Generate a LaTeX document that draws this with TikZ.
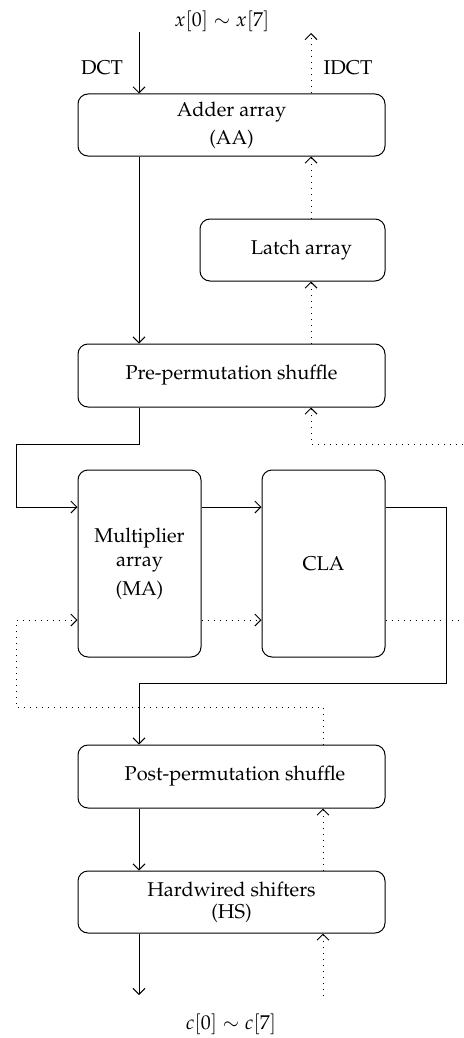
\documentclass[tikz,border=0pt]{standalone}
\usepackage[T1]{fontenc}
\usepackage{mathpazo}
\usetikzlibrary{arrows.meta,calc}

\begin{document}
\begin{tikzpicture}[x=1pt,y=-1pt,
  font=\fontsize{20}{24}\selectfont,
  blk/.style={draw,line width=1pt,rounded corners=10pt,inner sep=0pt,align=center},
  flow/.style={line width=1pt,-{Straight Barb[length=6pt,width=12pt,line width=1pt]}},
  back/.style={line width=1pt,dash pattern=on 1pt off 5pt,-{Straight Barb[length=6pt,width=12pt,line width=1pt]}},
  dots/.style={line width=1pt,dash pattern=on 1pt off 5pt}]
\useasboundingbox (0,0) rectangle (463,1038);

% processing blocks
\node[blk,minimum width=307pt,minimum height=62pt] (aa) at (231.5,125) {Adder array\\[4pt](AA)};
\node[blk,minimum width=185pt,minimum height=62pt] (la) at (292.5,250) {\hspace*{18pt}Latch array};
\node[blk,minimum width=307pt,minimum height=63pt] (pre) at (231.5,375.5) {Pre-permutation shuffle};
\node[blk,minimum width=123pt,minimum height=187pt] (ma) at (139.5,563.5) {Multiplier\\array\\[5pt](MA)};
\node[blk,minimum width=123pt,minimum height=187pt] (cla) at (323.5,563.5) {CLA};
\node[blk,minimum width=307pt,minimum height=63pt] (post) at (231.5,776.5) {\hspace*{7pt}Post-permutation shuffle};
\node[blk,minimum width=307pt,minimum height=62pt] (hs) at (231.5,902) {Hardwired shifters\\[-2pt](HS)};

% labels
\node (xlab) at (222,21) {$x[0]\sim x[7]$};
\node (dct) at (102,68) {DCT};
\node (idct) at (348,68) {IDCT};
\node (clab) at (231,1024) {$c[0]\sim c[7]$};

% reference columns and rows
\coordinate (L) at (139,0);
\coordinate (R) at (311,0);
\coordinate (R2) at (323,0);
\coordinate (yhi) at (0,507);
\coordinate (ylo) at (0,620);
\coordinate (xin) at (139,32);
\coordinate (xout) at (311,33);
\coordinate (rin) at (463,444);
\coordinate (rout) at (463,620);
\coordinate (cout) at (139,995);
\coordinate (cin) at (323,996);

% forward (DCT) path
\draw[flow] (xin) -- (aa.north -| xin);
\draw[flow] (aa.south -| L) -- (pre.north -| L);
\draw[flow] (pre.south -| L) -- (139,444) -- (16,444) |- (ma.west |- yhi);
\draw[flow] (ma.east |- yhi) -- (cla.west |- yhi);
\draw[flow] (cla.east |- yhi) -- (446,507) -- (446,683) -- (139,683) -- (post.north -| L);
\draw[flow] (post.south -| L) -- (hs.north -| L);
\draw[flow] (hs.south -| L) -- (cout);

% inverse (IDCT) path
\draw[back] (cin) -- (hs.south -| R2);
\draw[back] (hs.north -| R2) -- (post.south -| R2);
\draw[back] (post.north -| R2) -- (323,707) -- (16,707) |- (ma.west |- ylo);
\draw[back] (ma.east |- ylo) -- (cla.west |- ylo);
\draw[dots] (cla.east |- ylo) -- (rout);
\draw[back] (rin) -| (pre.south -| R);
\draw[back] (pre.north -| R) -- (la.south -| R);
\draw[back] (la.north -| R) -- (aa.south -| R);
\draw[back] (aa.north -| R) -- (xout);
\end{tikzpicture}
\end{document}
